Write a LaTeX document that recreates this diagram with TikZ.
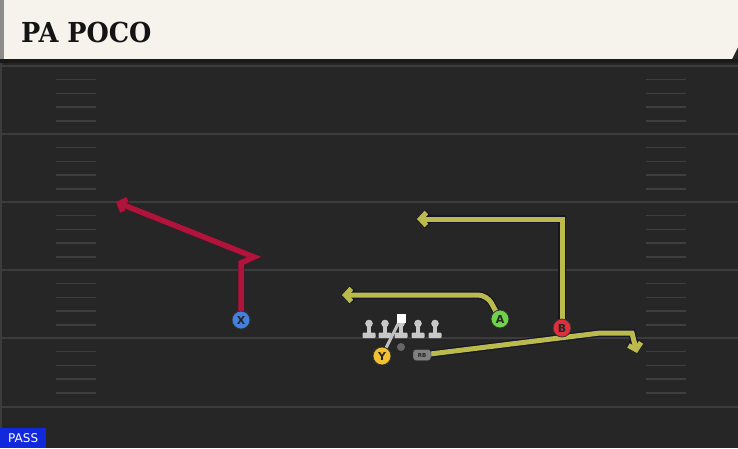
\documentclass[tikz,border=0pt]{standalone}
\usepackage{fontspec}
\usetikzlibrary{arrows.meta}
\newfontfamily\titlefont{DejaVu Serif}[BoldFont={* Bold}]
\newfontfamily\uifont{DejaVu Sans}
\definecolor{fieldbg}{RGB}{38,38,38}
\definecolor{yardline}{RGB}{60,60,60}
\definecolor{hashc}{RGB}{62,62,62}
\definecolor{cream}{RGB}{245,243,236}
\definecolor{routeY}{RGB}{186,187,76}
\definecolor{routeR}{RGB}{176,20,58}
\definecolor{outl}{RGB}{22,22,40}
\definecolor{pBlue}{RGB}{66,130,222}
\definecolor{pGreen}{RGB}{110,210,75}
\definecolor{pRed}{RGB}{222,48,60}
\definecolor{pYellow}{RGB}{242,192,48}
\definecolor{linec}{RGB}{200,200,200}
\definecolor{passblue}{RGB}{18,40,220}
\tikzset{
  player/.style={circle, draw=black!80, line width=0.8pt, minimum size=18pt, inner sep=0pt,
    font=\uifont\bfseries\fontsize{11}{11}\selectfont, text=black!85},
  tipY/.style={-{Straight Barb[length=6pt,width=13pt]}},
  yroute/.style={draw=routeY, line width=5pt, line join=miter, tipY,
    preaction={draw=outl, line width=7.5pt, tipY}},
  rroute/.style={draw=routeR, line width=5.5pt, line join=miter, tipY,
    preaction={draw=outl!70!routeR, line width=6.5pt, tipY}},
  yard/.style={draw=yardline, line width=2pt},
  hash/.style={draw=hashc, line width=1.5pt},
  lineman/.style={fill=linec},
}
\begin{document}
\begin{tikzpicture}[x=1pt,y=-1pt]
\useasboundingbox (0,0) rectangle (738,448);
% field
\fill[fieldbg] (0,0) rectangle (738,448);
\fill[yardline] (0,59) rectangle (2,448);
% title bar
\fill[black!45] (0,0) rectangle (4,59);
\fill[cream] (4,0) -- (738,0) -- (738,47) -- (732,59) -- (4,59) -- cycle;
\fill[black!90] (0,59) rectangle (738,63);
\node[anchor=base west, inner sep=0pt, text=black!92] (title) at (21,42)
  {\scalebox{0.93}[1]{\titlefont\bfseries\fontsize{27.5}{27.5}\selectfont PA POCO}};
% yard lines and hashes
\foreach \yy in {66,134,202,270,338,407} { \draw[yard] (2,\yy) -- (738,\yy); }
\foreach \yy in {66,134,202,270,338} {
  \foreach \k in {1,2,3,4} {
    \draw[hash] (56,\yy+13.7*\k) -- (96,\yy+13.7*\k);
    \draw[hash] (646,\yy+13.7*\k) -- (686,\yy+13.7*\k);
  }
}
% coordinates
\coordinate (x1) at (241,263);
\coordinate (x2) at (254,257);
\coordinate (xe) at (116,202);
\coordinate (a1) at (487,295);
\coordinate (ae) at (342,295);
\coordinate (b1) at (562,219);
\coordinate (be) at (417,219);
\coordinate (r1) at (600,333);
\coordinate (r2) at (632,333);
\coordinate (re) at (637,353);
% players (positions)
\coordinate (Xp) at (241,320);
\coordinate (Ap) at (500,319);
\coordinate (Bp) at (562,328);
\coordinate (RBp) at (422,355);
% routes
\draw[rroute] (Xp) -- (x1) -- (x2) -- (xe);
\draw[yroute, rounded corners=9pt] (Ap) -- (a1) -- (ae);
\draw[yroute] (Bp) -- (b1) -- (be);
\draw[yroute] (RBp) -- (r1) -- (r2) -- (re);
% offensive line
\foreach \lx in {369,385,401,418,435} {
  \fill[lineman] (\lx,323.5) circle (3.8pt);
  \fill[lineman] (\lx-2,324) rectangle (\lx+2,334);
  \fill[lineman, rounded corners=1pt] (\lx-6.5,332.5) rectangle (\lx+6.5,338);
}
% QB
\node[circle, fill=black!60, minimum size=8pt, inner sep=0pt] (qb) at (401,347) {};
% players
\node[player, fill=pBlue] (X) at (Xp) {X};
\node[player, fill=pGreen] (A) at (Ap) {A};
\node[player, fill=pRed] (B) at (Bp) {B};
\node[player, fill=pYellow] (Y) at (382,356) {Y};
\node[draw=black!80, fill=black!50, rounded corners=3pt, minimum width=18pt, minimum height=11pt, inner sep=0pt,
  font=\uifont\bfseries\fontsize{5.5}{5.5}\selectfont, text=black!85] (RB) at (RBp) {RB};
% Y block
\node[fill=white, minimum size=9pt, inner sep=0pt] (blk) at (401,318) {};
\draw[draw=black!25, line width=3pt] (Y) -- (blk);
\node[fill=white, minimum size=9pt, inner sep=0pt] at (blk) {};
% PASS label
\node[fill=passblue, text=white, anchor=south west, minimum width=46pt, minimum height=20pt, inner sep=0pt,
  font=\uifont\fontsize{12}{12}\selectfont] (pass) at (0,448) {PASS};
\end{tikzpicture}
\end{document}
